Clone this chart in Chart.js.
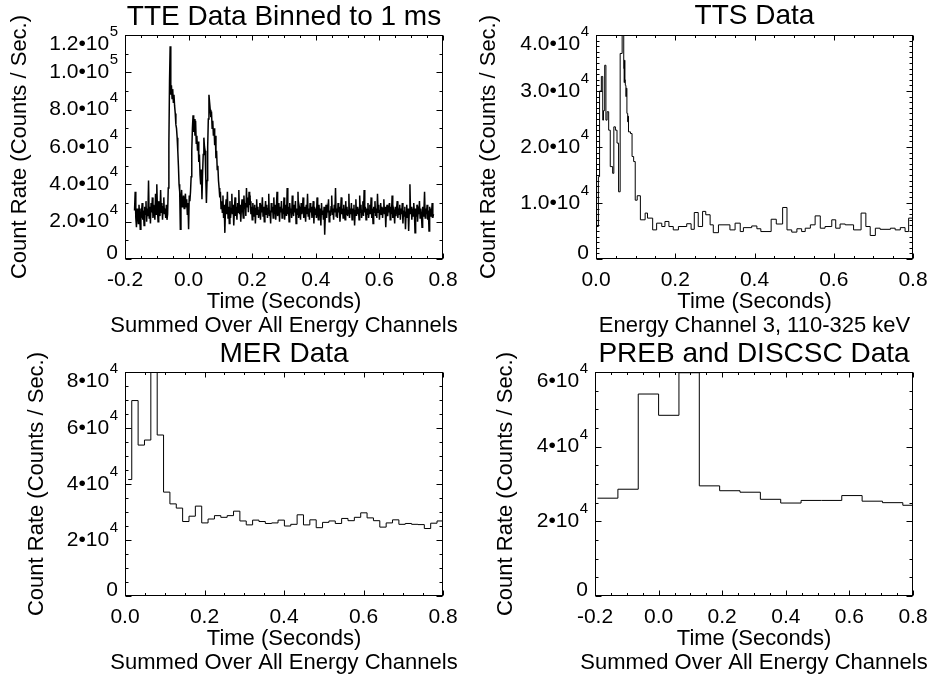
<!DOCTYPE html>
<html>
<head>
<meta charset="utf-8">
<script src="https://cdn.jsdelivr.net/npm/chart.js@4.4.1/dist/chart.umd.min.js"></script>
<style>
  html, body { margin: 0; padding: 0; background: #fff; }
  #wrap { position: relative; width: 930px; height: 679px; overflow: hidden; }
  #wrap canvas { position: absolute; }
</style>
</head>
<body>
<div id="wrap">
  <canvas id="tte"  width="465" height="340" style="left:0;top:0"></canvas>
  <canvas id="tts"  width="465" height="340" style="left:465px;top:0"></canvas>
  <canvas id="mer"  width="465" height="339" style="left:0;top:340px"></canvas>
  <canvas id="preb" width="465" height="339" style="left:465px;top:340px"></canvas>
</div>
<script>
/* ---------------------------------------------------------------
   Burst light curves, four detectors' data types.
   All rates below are in thousands of counts / sec.
   --------------------------------------------------------------- */
const RATE_UNIT = 1000;

// TTE: every 2 ms, starting at -0.170 s
const TTE_T0 = -0.170;
const TTE_DT = 0.002;
const TTE_RATE = [
  26, 36, 22, 17, 27, 24, 19, 29, 23, 16,   // -0.170
  27, 25, 30, 21, 26, 18, 28, 24, 31, 20,   // -0.150
  27, 23, 42, 22, 28, 19, 30, 25, 33, 22,   // -0.130
  29, 26, 21, 35, 24, 40, 27, 20, 31, 26,   // -0.110
  23, 37, 25, 30, 21, 28, 33, 24, 27, 22,   // -0.090
  29, 21, 24, 38, 62, 95, 114, 88, 93, 86,  // -0.070
  91, 84, 88, 82, 78, 72, 70, 65, 58, 50,   // -0.050
  40, 36, 16, 33, 37, 28, 30, 34, 27, 31,   // -0.030
  35, 28, 32, 24, 30, 16, 34, 31, 36, 44,   // -0.010
  58, 70, 77, 68, 75, 66, 74, 62, 66, 58,   //  0.010
  63, 52, 56, 45, 40, 48, 32, 46, 56, 65,   //  0.030
  60, 58, 44, 30, 42, 60, 75, 88, 84, 80,   //  0.050
  76, 79, 70, 74, 66, 70, 61, 66, 54, 58,   //  0.070
  48, 50, 42, 38, 33, 36, 27, 31, 25, 34,   //  0.090
  22, 29, 14, 27, 32, 24, 36, 22, 28, 19,   //  0.110
  31, 22, 27, 35, 24, 29, 18, 26, 33, 23,   //  0.130
  28, 21, 30, 25, 37, 24, 29, 20, 27, 32,   //  0.150
  26, 22, 34, 27, 30, 23, 38, 28, 33, 25,   //  0.170
  36, 29, 31, 24, 28, 21, 30, 26, 23, 29,   //  0.190
  19, 27, 32, 24, 28, 22, 26, 30, 21, 27,   //  0.210
  25, 33, 23, 28, 20, 26, 31, 24, 29, 22,   //  0.230
  27, 35, 23, 26, 19, 30, 25, 28, 22, 33,   //  0.250
  24, 29, 21, 27, 36, 23, 26, 30, 20, 28,   //  0.270
  25, 31, 22, 27, 24, 33, 21, 26, 29, 23,   //  0.290
  38, 24, 28, 20, 30, 25, 27, 22, 34, 26,   //  0.310
  23, 29, 25, 31, 19, 27, 24, 36, 22, 28,   //  0.330
  26, 21, 30, 24, 27, 33, 22, 28, 25, 20,   //  0.350
  29, 24, 35, 23, 27, 21, 30, 25, 28, 22,   //  0.370
  26, 31, 19, 28, 24, 27, 22, 33, 25, 21,   //  0.390
  29, 23, 27, 18, 30, 24, 26, 21, 28, 13,   //  0.410
  24, 29, 22, 27, 25, 32, 20, 26, 23, 28,   //  0.430
  34, 24, 27, 21, 29, 25, 38, 23, 27, 22,   //  0.450
  30, 25, 28, 20, 26, 33, 24, 27, 22, 29,   //  0.470
  25, 21, 31, 24, 28, 23, 26, 35, 22, 27,   //  0.490
  24, 30, 21, 27, 25, 29, 18, 26, 32, 23,   //  0.510
  28, 24, 27, 21, 34, 25, 29, 22, 26, 31,   //  0.530
  23, 37, 25, 28, 21, 27, 24, 30, 22, 26,   //  0.550
  29, 24, 33, 22, 27, 19, 28, 25, 31, 23,   //  0.570
  27, 22, 35, 25, 29, 21, 26, 30, 24, 28,   //  0.590
  22, 27, 32, 24, 28, 17, 26, 29, 23, 27,   //  0.610
  25, 30, 21, 28, 24, 34, 22, 27, 25, 19,   //  0.630
  28, 23, 27, 31, 22, 26, 24, 29, 21, 27,   //  0.650
  24, 30, 19, 26, 23, 28, 16, 25, 29, 22,   //  0.670
  27, 15, 26, 40, 24, 28, 21, 27, 23, 30,   //  0.690
  25, 14, 27, 23, 29, 20, 26, 24, 31, 22,   //  0.710
  27, 24, 17, 28, 23, 26, 36, 22, 27, 24,   //  0.730
  29, 21, 26, 15, 28, 23, 27, 25, 30, 22,   //  0.750
  24                                        //  0.770
];

// TTS (time-to-spill): bin left edges (s), last entry closes the last bin
const TTS_EDGES = [
  0.000, 0.006, 0.009, 0.0135, 0.017, 0.019, 0.022, 0.025, 0.028, 0.032,
  0.036, 0.042, 0.045, 0.049, 0.053, 0.057, 0.061, 0.066, 0.070, 0.071,
  0.072, 0.073, 0.074, 0.0755, 0.0765, 0.078, 0.080, 0.081, 0.082, 0.087,
  0.091, 0.095, 0.099, 0.104, 0.112, 0.124, 0.130, 0.143, 0.153, 0.166,
  0.174, 0.184, 0.195, 0.208, 0.229, 0.240, 0.248, 0.258, 0.269, 0.277,
  0.288, 0.296, 0.309, 0.338, 0.351, 0.364, 0.372, 0.393, 0.406, 0.416,
  0.442, 0.455, 0.471, 0.482, 0.494, 0.507, 0.519, 0.528, 0.541, 0.553,
  0.566, 0.578, 0.595, 0.605, 0.616, 0.629, 0.650, 0.669, 0.681, 0.692,
  0.705, 0.717, 0.743, 0.755, 0.768, 0.780, 0.789, 0.801
];
const TTS_RATE = [
  5.8, 14.7, 30.0, 32.6, 24.8, 26.5, 34.6, 24.8, 26.3, 23.0,
  16.5, 15.3, 23.6, 23.0, 20.7, 12.0, 36.7, 42.0, 34.0, 31.5,
  35.5, 32.0, 31.0, 29.0, 30.5, 26.0, 24.5, 25.5, 22.7, 22.4,
  18.3, 17.4, 10.5, 11.3, 7.0, 8.2, 7.3, 5.2, 6.4, 5.8,
  6.7, 5.8, 5.2, 5.8, 6.3, 5.3, 8.3, 5.8, 8.5, 7.9,
  6.1, 4.7, 6.1, 5.2, 6.4, 4.9, 5.6, 5.9, 5.4, 4.9,
  7.1, 6.25, 9.2, 5.2, 4.8, 5.4, 4.9, 5.5, 6.1, 7.7,
  5.5, 5.8, 7.0, 5.5, 6.25, 6.1, 5.2, 8.2, 5.8, 4.2,
  5.5, 5.3, 5.5, 5.2, 5.6, 4.9, 7.3
];

// MER: 16 ms bins (first one partial)
const MER_EDGES = [
  0.008, 0.017, 0.033, 0.049, 0.065, 0.081, 0.097, 0.113, 0.129, 0.145,
  0.161, 0.177, 0.193, 0.209, 0.225, 0.241, 0.257, 0.273, 0.289, 0.305,
  0.321, 0.337, 0.353, 0.369, 0.385, 0.401, 0.417, 0.433, 0.449, 0.465,
  0.481, 0.497, 0.513, 0.529, 0.545, 0.561, 0.577, 0.593, 0.609, 0.625,
  0.641, 0.657, 0.673, 0.689, 0.705, 0.721, 0.737, 0.753, 0.769, 0.785,
  0.801
];
const MER_RATE = [
  41.6, 69.8, 53.9, 55.7, 90.0, 57.5, 37.1, 32.9, 31.4, 26.6,
  28.5, 32.1, 26.1, 27.5, 28.7, 28.1, 28.7, 30.3, 26.8, 25.4,
  27.1, 26.6, 25.9, 26.1, 27.1, 25.0, 25.6, 29.0, 25.4, 27.2,
  24.4, 26.3, 26.8, 25.9, 27.7, 26.9, 28.1, 29.7, 27.9, 26.9,
  24.6, 26.1, 27.2, 25.6, 25.9, 25.6, 25.5, 24.1, 26.0, 26.8
];

// PREB + DISCSC: 64 ms bins
const PREB_EDGES = [
  -0.192, -0.128, -0.064, 0.000, 0.064, 0.128, 0.192, 0.256, 0.320,
  0.384, 0.448, 0.512, 0.576, 0.640, 0.704, 0.768, 0.832
];
const PREB_RATE = [
  26.2, 28.6, 54.1, 48.4, 59.8, 29.5, 28.2, 27.8,
  25.9, 24.9, 25.6, 25.6, 26.9, 25.4, 25.0, 24.3
];

// axis ticks
const X_TICKS_FROM_NEG = [-0.2, 0, 0.2, 0.4, 0.6, 0.8];
const X_LABELS_FROM_NEG = ['-0.2', '0.0', '0.2', '0.4', '0.6', '0.8'];
const X_TICKS_FROM_ZERO = [0, 0.2, 0.4, 0.6, 0.8];
const X_LABELS_FROM_ZERO = ['0.0', '0.2', '0.4', '0.6', '0.8'];

const TTE_Y_TICKS = [0, 20000, 40000, 60000, 80000, 100000, 120000];
const TTE_Y_LABELS = ['0', '2.0•10^4', '4.0•10^4', '6.0•10^4', '8.0•10^4', '1.0•10^5', '1.2•10^5'];
const TTS_Y_TICKS = [0, 10000, 20000, 30000, 40000];
const TTS_Y_LABELS = ['0', '1.0•10^4', '2.0•10^4', '3.0•10^4', '4.0•10^4'];
const MER_Y_TICKS = [0, 20000, 40000, 60000, 80000];
const MER_Y_LABELS = ['0', '2•10^4', '4•10^4', '6•10^4', '8•10^4'];
const PREB_Y_TICKS = [0, 20000, 40000, 60000];
const PREB_Y_LABELS = ['0', '2•10^4', '4•10^4', '6•10^4'];

const Y_TITLE = 'Count Rate (Counts / Sec.)';
const X_TITLE = 'Time (Seconds)';

/* --------------------------------------------------------------- */

const FONT = "'Liberation Sans', Arial, Helvetica, sans-serif";
const INK = '#000';
const TITLE_SIZE = 28;

function samplePoints(t0, dt, rates) {
  return rates.map((r, i) => ({ x: t0 + i * dt, y: r * RATE_UNIT }));
}

// step histogram: one point per bin left edge, plus the closing edge
function histPoints(edges, rates) {
  const pts = rates.map((r, i) => ({ x: edges[i], y: r * RATE_UNIT }));
  pts.push({ x: edges[rates.length], y: rates[rates.length - 1] * RATE_UNIT });
  return pts;
}

function drawPowerLabel(ctx, text, xRight, yMid) {
  const [base, exp] = text.split('^');
  ctx.font = `21px ${FONT}`;
  const wb = ctx.measureText(base).width;
  ctx.font = `15px ${FONT}`;
  const we = exp ? ctx.measureText(exp).width + 0.5 : 0;
  const x0 = xRight - wb - we;
  ctx.textAlign = 'left';
  ctx.textBaseline = 'middle';
  ctx.font = `21px ${FONT}`;
  ctx.fillText(base, x0, yMid);
  if (exp) {
    ctx.font = `15px ${FONT}`;
    ctx.fillText(exp, x0 + wb + 0.5, yMid - 12);
  }
}

// IDL-style frame: closed box, inward ticks on all four sides, labels, axis titles
// (axis titles drawn here so Chart.js doesn't squeeze them to the plot width)
const idlFrame = {
  id: 'idlFrame',
  afterDatasetsDraw(chart, args, o) {
    const { ctx, chartArea: a, scales: { x, y } } = chart;
    const L = Math.round(a.left) + 0.5, R = Math.round(a.right) - 0.5;
    const T = Math.round(a.top) + 0.5, B = Math.round(a.bottom) - 0.5;
    const near = (v, list) => list.some(t => Math.abs(t - v) < 1e-9);

    ctx.save();
    ctx.strokeStyle = INK;
    ctx.lineWidth = 1;
    ctx.strokeRect(L, T, R - L, B - T);

    ctx.beginPath();
    const nx = Math.round((x.max - x.min) / o.xMinor);
    for (let k = 0; k <= nx; k++) {
      const v = x.min + k * o.xMinor;
      const px = Math.round(x.getPixelForValue(v)) + 0.5;
      const len = near(v, o.xTicks) ? 5 : 2.5;
      ctx.moveTo(px, B); ctx.lineTo(px, B - len);
      ctx.moveTo(px, T); ctx.lineTo(px, T + len);
    }
    const ny = Math.round((y.max - y.min) / o.yMinor);
    for (let k = 0; k <= ny; k++) {
      const v = y.min + k * o.yMinor;
      const py = Math.round(y.getPixelForValue(v)) + 0.5;
      const len = near(v, o.yTicks) ? 6 : 3;
      ctx.moveTo(L, py); ctx.lineTo(L + len, py);
      ctx.moveTo(R, py); ctx.lineTo(R - len, py);
    }
    ctx.stroke();

    ctx.fillStyle = INK;
    ctx.font = `21px ${FONT}`;
    ctx.textAlign = 'center';
    ctx.textBaseline = 'middle';
    o.xTicks.forEach((v, i) => ctx.fillText(o.xLabels[i], x.getPixelForValue(v), a.bottom + 21.5));

    o.yTicks.forEach((v, i) => {
      const py = Math.min(Math.max(y.getPixelForValue(v), a.top + 9), a.bottom - 6);
      drawPowerLabel(ctx, o.yLabels[i], a.left - 7, py);
    });

    // axis titles
    ctx.font = `22px ${FONT}`;
    ctx.textAlign = 'center';
    ctx.textBaseline = 'middle';
    const cx = (a.left + a.right) / 2;
    ctx.fillText(X_TITLE, cx, a.bottom + 43);
    ctx.fillText(o.subtitle, cx, a.bottom + 66.5);
    ctx.translate(o.yTitleX, (a.top + a.bottom) / 2);
    ctx.rotate(-Math.PI / 2);
    ctx.fillText(Y_TITLE, 0, 0);
    ctx.restore();
  }
};

function makePanel(id, p) {
  const canvas = document.getElementById(id);
  const W = canvas.width, H = canvas.height;
  const box = p.box;
  return new Chart(canvas, {
    type: 'line',
    data: {
      datasets: [{
        data: p.points,
        stepped: p.stepped ? 'before' : false,
        borderColor: INK,
        borderWidth: p.lineWidth,
        pointRadius: 0,
        tension: 0,
        fill: false,
        clip: 0
      }]
    },
    options: {
      responsive: false,
      animation: false,
      events: [],
      layout: { autoPadding: false, padding: { left: 0, top: 0, bottom: 0, right: W - box.right } },
      plugins: {
        legend: { display: false },
        tooltip: { enabled: false },
        title: {
          display: true, text: p.title, fullSize: false, color: INK,
          font: { family: FONT, size: TITLE_SIZE, weight: 'normal', lineHeight: 1 },
          padding: { top: p.titleTop, bottom: box.top - TITLE_SIZE - p.titleTop }
        },
        idlFrame: {
          xTicks: p.xTicks, xLabels: p.xLabels, xMinor: 0.05,
          yTicks: p.yTicks, yLabels: p.yLabels, yMinor: p.yMinor,
          subtitle: p.subtitle, yTitleX: p.yTitleX
        }
      },
      scales: {
        x: {
          type: 'linear', min: p.xTicks[0], max: 0.8,
          afterFit: s => { s.height = H - box.bottom; },
          ticks: { display: false },
          grid: { display: false },
          border: { display: false }
        },
        y: {
          type: 'linear', min: 0, max: p.yTicks[p.yTicks.length - 1],
          afterFit: s => { s.width = box.left; },
          ticks: { display: false },
          grid: { display: false },
          border: { display: false }
        }
      }
    },
    plugins: [idlFrame]
  });
}

makePanel('tte', {
  title: 'TTE Data Binned to 1 ms',
  subtitle: 'Summed Over All Energy Channels',
  points: samplePoints(TTE_T0, TTE_DT, TTE_RATE),
  lineWidth: 1.5,
  xTicks: X_TICKS_FROM_NEG, xLabels: X_LABELS_FROM_NEG,
  yTicks: TTE_Y_TICKS, yLabels: TTE_Y_LABELS, yMinor: 10000,
  box: { left: 125, right: 443, top: 35, bottom: 259 },
  titleTop: 3, yTitleX: 19.5
});

makePanel('tts', {
  title: 'TTS Data',
  subtitle: 'Energy Channel 3, 110-325 keV',
  points: histPoints(TTS_EDGES, TTS_RATE),
  stepped: true, lineWidth: 1,
  xTicks: X_TICKS_FROM_ZERO, xLabels: X_LABELS_FROM_ZERO,
  yTicks: TTS_Y_TICKS, yLabels: TTS_Y_LABELS, yMinor: 1000,
  box: { left: 131, right: 448, top: 35, bottom: 259 },
  titleTop: 2.5, yTitleX: 23.5
});

makePanel('mer', {
  title: 'MER Data',
  subtitle: 'Summed Over All Energy Channels',
  points: histPoints(MER_EDGES, MER_RATE),
  stepped: true, lineWidth: 1,
  xTicks: X_TICKS_FROM_ZERO, xLabels: X_LABELS_FROM_ZERO,
  yTicks: MER_Y_TICKS, yLabels: MER_Y_LABELS, yMinor: 5000,
  box: { left: 125, right: 443, top: 32, bottom: 256 },
  titleTop: 0, yTitleX: 36.8
});

makePanel('preb', {
  title: 'PREB and DISCSC Data',
  subtitle: 'Summed Over All Energy Channels',
  points: histPoints(PREB_EDGES, PREB_RATE),
  stepped: true, lineWidth: 1,
  xTicks: X_TICKS_FROM_NEG, xLabels: X_LABELS_FROM_NEG,
  yTicks: PREB_Y_TICKS, yLabels: PREB_Y_LABELS, yMinor: 5000,
  box: { left: 130, right: 448, top: 32, bottom: 256 },
  titleTop: 0, yTitleX: 41
});
</script>
</body>
</html>
